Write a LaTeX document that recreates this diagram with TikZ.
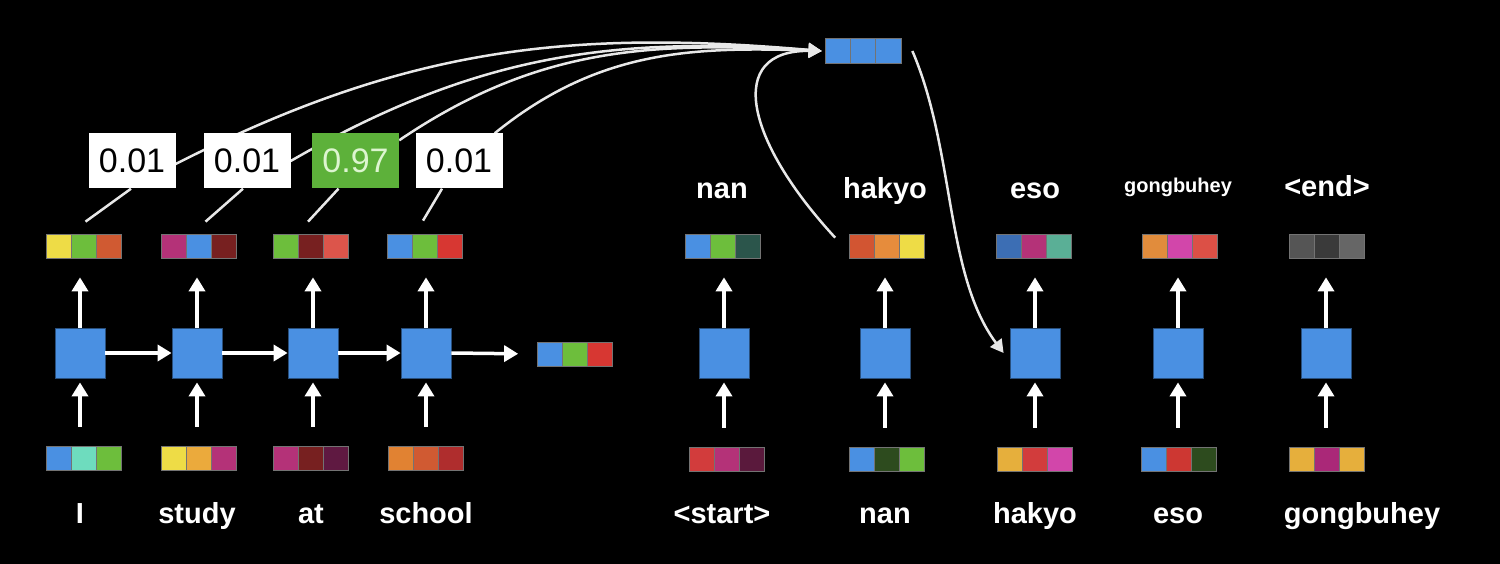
\documentclass[tikz,border=0pt]{standalone}
\usepackage{fontspec}
\setmainfont{Liberation Sans}
\usetikzlibrary{arrows.meta}
\pgfdeclarelayer{back}\pgfdeclarelayer{mid}\pgfsetlayers{back,mid,main}
\definecolor{rnn}{HTML}{4A90E2}
\definecolor{cyel}{HTML}{EEDC46}
\definecolor{cgrn}{HTML}{6DBE3C}
\definecolor{corr}{HTML}{D05A32}
\definecolor{cmag}{HTML}{B43278}
\definecolor{cdrd}{HTML}{772020}
\definecolor{csal}{HTML}{DC554B}
\definecolor{cred}{HTML}{D73732}
\definecolor{caqu}{HTML}{6EDCBE}
\definecolor{cory}{HTML}{EBAA3C}
\definecolor{cdpu}{HTML}{5F1941}
\definecolor{corg}{HTML}{E18232}
\definecolor{cbrk}{HTML}{AF2D2D}
\definecolor{cdtl}{HTML}{2B554B}
\definecolor{cdbl}{HTML}{3C6EB4}
\definecolor{ctea}{HTML}{5AAF96}
\definecolor{cpnk}{HTML}{D246AA}
\definecolor{cg1}{HTML}{555555}
\definecolor{cg2}{HTML}{3A3A3A}
\definecolor{cg3}{HTML}{666666}
\definecolor{cdgr}{HTML}{2D4B1E}
\definecolor{cyor}{HTML}{E6AF3C}
\definecolor{cdmg}{HTML}{AA2878}
\definecolor{chor}{HTML}{D25532}
\definecolor{chom}{HTML}{E68C3C}
\definecolor{cgor}{HTML}{E18C3C}
\definecolor{cgrd}{HTML}{DC5046}
\definecolor{csrd}{HTML}{D23C3C}
\definecolor{cspu}{HTML}{5A193C}
\definecolor{cerd}{HTML}{CD3732}
\definecolor{scg}{HTML}{5DB13A}
\definecolor{sct}{HTML}{DDF5D0}
\definecolor{lin}{HTML}{E8E8E8}
\tikzset{
  rnnbox/.style={rectangle, fill=rnn, draw=rnn!55!black, line width=0.8,
    minimum width=50, minimum height=50, inner sep=0},
  vec/.style n args={3}{rectangle, minimum width=75, minimum height=24, inner sep=0,
    draw=black!55, line width=0.7,
    path picture={
      \fill[#1] (path picture bounding box.south west) rectangle ([xshift=25]path picture bounding box.north west);
      \fill[#2] ([xshift=25]path picture bounding box.south west) rectangle ([xshift=50]path picture bounding box.north west);
      \fill[#3] ([xshift=50]path picture bounding box.south west) rectangle (path picture bounding box.north east);
      \draw[black!55, line width=0.8] ([xshift=25]path picture bounding box.south west) -- ([xshift=25]path picture bounding box.north west);
      \draw[black!55, line width=0.8] ([xshift=50]path picture bounding box.south west) -- ([xshift=50]path picture bounding box.north west);
    }},
  word/.style={text=white, font=\bfseries\fontsize{29}{34}\selectfont, inner sep=0, anchor=base},
  smallword/.style={text=white, font=\bfseries\fontsize{20}{24}\selectfont, inner sep=0, anchor=base},
  score/.style={rectangle, fill=white, minimum width=87, minimum height=55, inner sep=0,
    font=\fontsize{34}{38}\selectfont, text=black},
  arr/.style={draw=white, line width=3.5, -{Triangle[width=16pt,length=14pt]}},
  carr/.style={draw=lin, line width=2.5, -{Triangle[width=14pt,length=13pt]}},
  link/.style={draw=lin, line width=2.5},
}
\begin{document}
\begin{tikzpicture}[x=1pt,y=-1pt]
\begin{pgfonlayer}{back}
\fill[black] (0,0) rectangle (1500,564);
\end{pgfonlayer}
\useasboundingbox (0,0) rectangle (1500,564);

% ---------- encoder ----------
\node[rnnbox] (e1) at (80,353) {};
\node[rnnbox] (e2) at (197,353) {};
\node[rnnbox] (e3) at (313,353) {};
\node[rnnbox] (e4) at (426,353) {};

\node[vec={cyel}{cgrn}{corr}] (h1) at (84,246) {};
\node[vec={cmag}{rnn}{cdrd}] (h2) at (199,246) {};
\node[vec={cgrn}{cdrd}{csal}] (h3) at (311,246) {};
\node[vec={rnn}{cgrn}{cred}] (h4) at (425,246) {};

\node[vec={rnn}{caqu}{cgrn}] (x1) at (84,458) {};
\node[vec={cyel}{cory}{cmag}] (x2) at (199,458) {};
\node[vec={cmag}{cdrd}{cdpu}] (x3) at (311,458) {};
\node[vec={corg}{corr}{cbrk}] (x4) at (426,458) {};

\node[word] (w1) at (80,523) {I};
\node[word] (w2) at (197,523) {study};
\node[word] (w3) at (311,523) {at};
\node[word] (w4) at (426,523) {school};

\node[vec={rnn}{cgrn}{cred}] (c) at (575,354) {};

\foreach \i in {1,...,4}{
  \draw[arr, shorten <=19pt, shorten >=4pt] (x\i.north -| e\i.south) -- (e\i.south);
  \draw[arr, shorten >=19pt] (e\i.north) -- (h\i.south -| e\i.north);
}
\draw[arr] (e1.east) -- (e2.west);
\draw[arr] (e2.east) -- (e3.west);
\draw[arr] (e3.east) -- (e4.west);
\draw[arr, shorten >=19pt] (e4.east) -- (c.west);

% ---------- scores ----------
\node[score] (s1) at (132,161) {0.01};
\node[score] (s2) at (247,161) {0.01};
\node[score, fill=scg, text=sct] (s3) at (355.5,161) {0.97};
\node[score] (s4) at (459,161) {0.01};

\draw[link] ([xshift=1.5,yshift=12]h1.north) -- ([xshift=-1]s1.south);
\draw[link] ([xshift=6.5,yshift=12]h2.north) -- ([xshift=-4]s2.south);
\draw[link] ([xshift=-3,yshift=12]h3.north) -- ([xshift=-17]s3.south);
\draw[link] ([xshift=-2,yshift=13]h4.north) -- ([xshift=-17]s4.south);

% ---------- attention vector ----------
\node[vec={rnn}{rnn}{rnn}, minimum width=76, minimum height=25] (a) at (863,51) {};

\begin{pgfonlayer}{mid}
\draw[carr] ([yshift=-3]s1.east) .. controls (404,48) and (567,29) .. ([xshift=-3]a.west);
\draw[carr] (s2.east) .. controls (474.5,55) and (610.5,36) .. ([xshift=-3]a.west);
\draw[carr] ([yshift=-7]s3.north east) .. controls (539,45.5) and (653,42) .. ([xshift=-3]a.west);
\draw[carr] ([xshift=-8]s4.north east) .. controls (597,50.5) and (690,46.4) .. ([xshift=-3]a.west);
\end{pgfonlayer}

% ---------- decoder ----------
\node[rnnbox] (d1) at (724,353) {};
\node[rnnbox] (d2) at (885,353) {};
\node[rnnbox] (d3) at (1035,353) {};
\node[rnnbox] (d4) at (1178,353) {};
\node[rnnbox] (d5) at (1326,353) {};

\node[vec={rnn}{cgrn}{cdtl}] (o1) at (723,246) {};
\node[vec={chor}{chom}{cyel}] (o2) at (886.5,246) {};
\node[vec={cdbl}{cmag}{ctea}] (o3) at (1034,246) {};
\node[vec={cgor}{cpnk}{cgrd}] (o4) at (1179.5,246) {};
\node[vec={cg1}{cg2}{cg3}] (o5) at (1326.5,246) {};

\node[vec={csrd}{cmag}{cspu}] (i1) at (727,459) {};
\node[vec={rnn}{cdgr}{cgrn}] (i2) at (886.5,459) {};
\node[vec={cyor}{csrd}{cpnk}] (i3) at (1034.5,459) {};
\node[vec={rnn}{cerd}{cdgr}] (i4) at (1179,459) {};
\node[vec={cyor}{cdmg}{cyor}] (i5) at (1327,459) {};

\node[word] (t1) at (722,199) {nan};
\node[word] (t2) at (885,199) {hakyo};
\node[word] (t3) at (1035,199) {eso};
\node[smallword] (t4) at (1178,193) {gongbuhey};
\node[word] (t5) at (1327,197) {<end>};

\node[word] (b1) at (722,523) {<start>};
\node[word] (b2) at (885,523) {nan};
\node[word] (b3) at (1035,523) {hakyo};
\node[word] (b4) at (1178,523) {eso};
\node[word] (b5) at (1362,523) {gongbuhey};

\foreach \i in {1,...,5}{
  \draw[arr, shorten <=19pt, shorten >=4pt] (i\i.north -| d\i.south) -- (d\i.south);
  \draw[arr, shorten >=19pt] (d\i.north) -- (o\i.south -| d\i.north);
}

\draw[carr] ([xshift=-13.5,yshift=-4]o2.north west) .. controls (745,140) and (725,50) .. ([xshift=-3]a.west);
\draw[carr] ([xshift=11]a.east) .. controls (955,150) and (945,275) .. ([xshift=-6]d3.west);
\end{tikzpicture}
\end{document}
